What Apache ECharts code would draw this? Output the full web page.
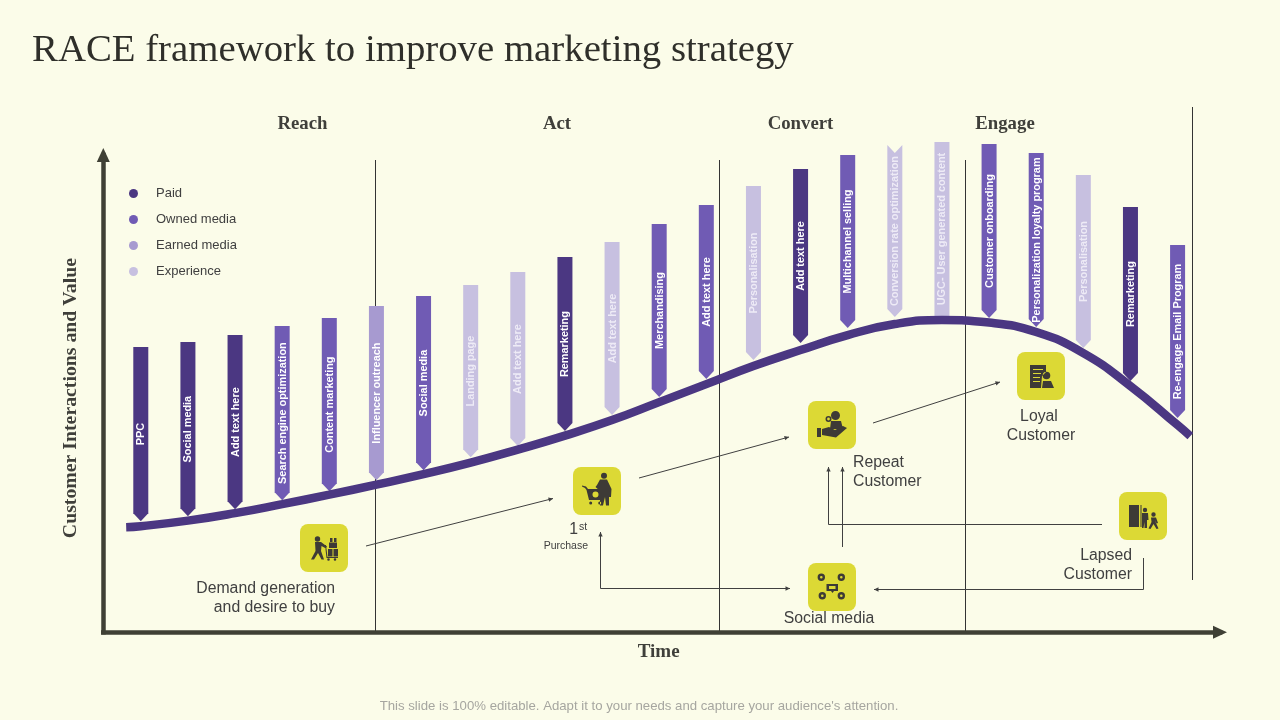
<!DOCTYPE html>
<html>
<head>
<meta charset="utf-8">
<title>RACE framework</title>
<script src="https://cdn.jsdelivr.net/npm/echarts@6/dist/echarts.min.js"></script>
<style>
  html, body { margin: 0; padding: 0; background: #fbfce9; }
  #chart { width: 1280px; height: 720px; }
</style>
</head>
<body>
<div id="chart"></div>
<script>
// touch points along the journey
const itemNames = ['PPC', 'Social media', 'Add text here', 'Search engine optimization', 'Content marketing',
  'Influencer outreach', 'Social media', 'Landing page', 'Add text here', 'Remarketing', 'Add text here',
  'Merchandising', 'Add text here', 'Personalisation', 'Add text here', 'Multichannel selling',
  'Conversion rate optimization', 'UGC- User generated content', 'Customer onboarding',
  'Personalization loyalty program', 'Personalisation', 'Remarketing', 'Re-engage Email Program']
const itemTypes = ['Paid', 'Paid', 'Paid', 'Owned media', 'Owned media', 'Earned media', 'Owned media',
  'Experience', 'Experience', 'Paid', 'Experience', 'Owned media', 'Owned media', 'Experience', 'Paid',
  'Owned media', 'Experience', 'Experience', 'Owned media', 'Owned media', 'Experience', 'Paid', 'Owned media']
const itemTops = [285, 290, 297, 306, 314, 326, 336, 347, 360, 375, 390, 408, 427, 446, 463, 477, 487, 490, 488, 479, 457, 425, 387]
const itemTips = [111, 116, 123, 132, 141, 152, 162, 175, 186, 201, 217, 235, 253, 272, 289, 304, 315, 316, 314, 305, 284, 251, 214]

// value curve
const curveX = [-0.31, 0, 1, 2, 3, 4, 5, 6, 7, 8, 9, 10, 11, 12, 13, 14, 15, 16, 17, 18, 19, 20, 21, 22, 22.27]
const curveY = [105, 106, 111.5, 119, 128, 137.5, 147.5, 158, 169.5, 182.5, 196.5, 212, 230, 248, 266, 282, 297, 308, 312, 309.5, 300, 279, 246, 207, 196]

const legendNames = ['Paid', 'Owned media', 'Earned media', 'Experience']
const legendColors = ['#4b3782', '#705bb4', '#a79ad0', '#c7c0e0']

const sans = '"Liberation Sans", Arial, sans-serif'
const serif = '"Liberation Serif", serif'
const dark = '#404040'
const inkColor = '#3d3a36'
const iconColor = '#dcd935'

function renderPennant (params, api) {
    const i = api.value(0)
    const name = itemNames[i]
    const top = api.coord([i, api.value(1)])
    const tip = api.coord([i, api.value(2)])
    const w = 7.5
    let points
    if (name.indexOf('UGC') === 0) {
        points = [[top[0] - w, top[1]], [top[0] + w, top[1]], [top[0] + w, tip[1]], [top[0] - w, tip[1]]]
    } else if (name.indexOf('Conversion') === 0) {
        points = [[top[0] - w, top[1]], [top[0], top[1] + 8], [top[0] + w, top[1]], [top[0] + w, tip[1] - 8], [top[0], tip[1]], [top[0] - w, tip[1] - 8]]
    } else {
        points = [[top[0] - w, top[1]], [top[0] + w, top[1]], [top[0] + w, tip[1] - 8], [top[0], tip[1]], [top[0] - w, tip[1] - 8]]
    }
    return {
        type: 'group',
        children: [{
            type: 'polygon',
            shape: { points },
            style: { fill: api.visual('color') }
        }, {
            type: 'text',
            x: top[0] + 0.5,
            y: (top[1] + tip[1]) / 2,
            rotation: Math.PI / 2,
            style: {
                text: name,
                fill: itemTypes[i] === 'Experience' ? '#eeebf6' : '#fff',
                font: 'bold 10.9px ' + sans,
                align: 'center',
                verticalAlign: 'middle'
            }
        }]
    }
}

function pennantSeries (type, idx) {
    const data = []
    itemNames.forEach((n, i) => {
        if (itemTypes[i] === type) data.push([i, itemTops[i], itemTips[i]])
    })
    return {
        name: type,
        type: 'custom',
        renderItem: renderPennant,
        encode: { x: 0, y: [1, 2] },
        itemStyle: { color: legendColors[idx] },
        clip: false,
        silent: true,
        z: 3,
        data
    }
}

// ---- decorations: dividers, arrows, icons, captions ----
function seg (points) {
    return { type: 'polyline', shape: { points }, style: { stroke: dark, lineWidth: 1, fill: null }, z: 1 }
}
function head (p, from) {
    // small arrow head at p, pointing away from "from"
    const a = Math.atan2(p[1] - from[1], p[0] - from[0])
    const s = 4.5, h = 2.2
    const bx = p[0] - s * Math.cos(a), by = p[1] - s * Math.sin(a)
    return {
        type: 'polygon',
        shape: { points: [p, [bx - h * Math.sin(a), by + h * Math.cos(a)], [bx + h * Math.sin(a), by - h * Math.cos(a)]] },
        style: { fill: dark },
        z: 1
    }
}
function arrow (points, both) {
    const n = points.length
    const els = [seg(points), head(points[n - 1], points[n - 2])]
    if (both) els.push(head(points[0], points[1]))
    return els
}
function divider (x, y1, y2) {
    return { type: 'line', shape: { x1: x, y1, x2: x, y2 }, style: { stroke: '#333', lineWidth: 1 }, z: 0 }
}
function label (text, x, y, align, size) {
    return {
        type: 'text', z: 4,
        style: { text, x, y, align: align || 'center', verticalAlign: 'middle', fill: dark, font: (size || 15.8) + 'px ' + sans }
    }
}
function heading (text, x, y) {
    return { type: 'text', z: 4, style: { text, x, y, align: 'center', verticalAlign: 'middle', fill: '#3f3f3a', font: 'bold 18.8px ' + serif } }
}
function dot (cx, cy, r) {
    return 'M' + (cx - r) + ' ' + cy + 'a' + r + ' ' + r + ' 0 1 0 ' + (2 * r) + ' 0a' + r + ' ' + r + ' 0 1 0 ' + (-2 * r) + ' 0Z'
}
// opposite winding, punches a hole in a dot
function hole (cx, cy, r) {
    return 'M' + (cx - r) + ' ' + cy + 'a' + r + ' ' + r + ' 0 1 1 ' + (2 * r) + ' 0a' + r + ' ' + r + ' 0 1 1 ' + (-2 * r) + ' 0Z'
}
function icon (cx, cy, name, pathData) {
    echarts.graphic.registerShape(name, echarts.graphic.extendPath(pathData))
    return [{
        type: 'rect',
        shape: { x: cx - 24, y: cy - 24, width: 48, height: 48, r: 8 },
        style: { fill: iconColor },
        z: 4
    }, {
        type: name,
        x: cx - 24,
        y: cy - 24,
        style: { fill: inkColor },
        z: 5
    }]
}

const demandIcon = dot(17.5, 15, 2.7) + 'M15 18L21 18L27 22.5L26 24.5L21.5 22L21 27L24 35.5L21.5 35.5L18 29L14 35.5L11 35.5L15.5 27Z' +
    'M26 21L27.5 33L38 33L38 34L26.5 34L25 21Z' +
    'M28 25h4.5v7.5h-4.5zM33.5 25h4.5v7.5h-4.5zM29 18.5h8v5.5h-8zM30 14h2.5v4h-2.5zM34 14h2.5v4h-2.5z' +
    dot(28.5, 35.5, 1.3) + dot(35, 35.5, 1.3)
const cartIcon = dot(31, 8.7, 3) + 'M27 12.5L34 12.5L38.5 22L38 30L36 30L36 38.5L33 38.5L32 30L30 38.5L27 38.5L27 24L22.5 20L24 18Z' +
    'M9 18.5L13 19.5L15 22L32 22L30 33L16 33L13.5 23L12 21L9 19.5Z' + dot(22.5, 27.5, 3) + dot(17.7, 36, 1.5) + dot(26.7, 36, 1.5)
const handIcon = dot(27.5, 14.5, 4.5) + 'M23 20L33 20L35 28L22 28Z' + dot(20.5, 18, 3) + hole(20.5, 18, 1.4) +
    'M9 27L13 27L13 36L9 36ZM14 28L21 26L27 29L35 25L39 27L28 36.5L14 34Z'
const loyalIcon = 'M13 13L29 13L29 20L25 24L24 36L13 36Z' + 'M16 17v1h10v-1zM16 21v1h8v-1zM16 25v1h7v-1zM16 29v1h7v-1z' +
    dot(29.5, 23.5, 3.8) + 'M25 36L26 29L34 29L37 36Z'
const lapsedIcon = 'M10 13L20 13L20 35L10 35ZM21.5 13L22.5 13L22.5 35L21.5 35Z' + dot(26, 18, 2.2) + dot(34.5, 22.5, 2.2) +
    'M23 21L29 21L29.5 28L28 28L28 36L25.5 36L25.5 30L24.5 36L23 36Z' +
    'M32 25.5L37 25.5L39 31L37.5 31.5L36 28L37 31L39.5 36.5L37.5 37L34.5 32L31.5 37L29.5 36.5L32.5 30Z'
const socialIcon = 'M18.5 21h11.5v7h-4l-1.5 2l-1.5-2h-4.5zM21 23v3h6.5v-3z' +
    dot(13.3, 14.3, 3.7) + hole(13.3, 14.3, 1.3) + dot(33.3, 14.3, 3.7) + hole(33.3, 14.3, 1.3) +
    dot(14.3, 32.7, 3.7) + hole(14.3, 32.7, 1.3) + dot(33.3, 32.7, 3.7) + hole(33.3, 32.7, 1.3)

const graphics = [
    divider(375.5, 160, 632), divider(719.5, 160, 632), divider(965.5, 160, 632), divider(1192.5, 107, 580),
    ...arrow([[366, 546], [553, 498.5]]),
    ...arrow([[639, 478], [789, 437]]),
    ...arrow([[873, 423], [1000, 382]]),
    ...arrow([[842.5, 547], [842.5, 467]]),
    ...arrow([[1102, 524.5], [828.5, 524.5], [828.5, 467]]),
    ...arrow([[1143.5, 558], [1143.5, 589.5], [874, 589.5]]),
    ...arrow([[600.5, 532], [600.5, 588.5], [790, 588.5]], true),
    ...icon(324, 548, 'demandIcon', demandIcon),
    ...icon(597, 491, 'cartIcon', cartIcon),
    ...icon(832, 425, 'handIcon', handIcon),
    ...icon(1041, 376, 'loyalIcon', loyalIcon),
    ...icon(1143, 516, 'lapsedIcon', lapsedIcon),
    ...icon(832, 587, 'socialIcon', socialIcon),
    heading('Reach', 302.5, 124.5), heading('Act', 557, 124.5), heading('Convert', 800.5, 124.5), heading('Engage', 1005, 124.5),
    label('Demand generation', 335, 589, 'right'),
    label('and desire to buy', 335, 608, 'right'),
    label('1', 578, 530, 'right'),
    label('st', 579, 527, 'left', 10.5),
    label('Purchase', 588, 546.5, 'right', 10.5),
    label('Repeat', 853, 463, 'left'),
    label('Customer', 853, 482, 'left'),
    label('Loyal', 1039, 417),
    label('Customer', 1041, 436),
    label('Lapsed', 1132, 556, 'right'),
    label('Customer', 1132, 575, 'right'),
    label('Social media', 829, 619),
    { type: 'text', z: 4, style: { text: "This slide is 100% editable. Adapt it to your needs and capture your audience's attention.", x: 639, y: 706, align: 'center', verticalAlign: 'middle', fill: '#a6a6a0', font: '13.2px ' + sans } }
]

const chart = echarts.init(document.getElementById('chart'))
chart.setOption({
    backgroundColor: '#fbfce9',
    animation: false,
    title: {
        text: 'RACE framework to improve marketing strategy',
        left: 32,
        top: 31,
        padding: 0,
        textStyle: { fontFamily: serif, fontSize: 38.8, fontWeight: 'normal', color: '#2f2f2a' }
    },
    legend: {
        data: legendNames,
        orient: 'vertical',
        left: 129,
        top: 187,
        padding: 0,
        icon: 'circle',
        itemWidth: 9,
        itemHeight: 9,
        itemGap: 13,
        selectedMode: false,
        textStyle: { fontFamily: sans, fontSize: 13, color: dark, padding: [0, 0, 0, 13] }
    },
    grid: { left: 103.3, right: 60, top: 155, bottom: 87.8 },
    xAxis: {
        type: 'value',
        min: -0.7956,
        max: 22.9,
        name: 'Time',
        nameLocation: 'middle',
        nameGap: 10,
        nameTextStyle: { fontFamily: serif, fontSize: 19, fontWeight: 'bold', color: '#3f3f3a', padding: [0, 6, 0, 0] },
        axisLine: { show: true, onZero: false, symbol: ['none', 'triangle'], symbolSize: [13, 14], lineStyle: { color: '#3f4035', width: 4.5, cap: 'square' } },
        axisTick: { show: false },
        axisLabel: { show: false },
        splitLine: { show: false }
    },
    yAxis: {
        type: 'value',
        min: 0,
        max: 477,
        name: 'Customer Interactions and Value',
        nameLocation: 'middle',
        nameGap: 22,
        nameTextStyle: { fontFamily: serif, fontSize: 19.8, fontWeight: 'bold', color: '#3f3f3a', padding: [0, 9, 0, 0] },
        axisLine: { show: true, onZero: false, symbol: ['none', 'triangle'], symbolSize: [13, 14], lineStyle: { color: '#3f4035', width: 4.5, cap: 'square' } },
        axisTick: { show: false },
        axisLabel: { show: false },
        splitLine: { show: false }
    },
    series: [
        ...legendNames.map(pennantSeries),
        {
            name: 'Value',
            type: 'line',
            data: curveX.map((x, i) => [x, curveY[i]]),
            smooth: true,
            showSymbol: false,
            silent: true,
            z: 4,
            lineStyle: { color: '#4b3782', width: 8.5, cap: 'butt' }
        }
    ],
    graphic: { elements: graphics }
})
</script>
</body>
</html>
